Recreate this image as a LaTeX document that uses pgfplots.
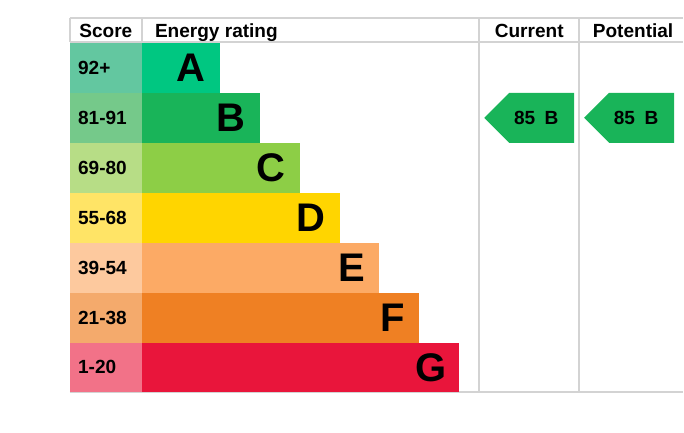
\documentclass[border=0pt]{standalone}
\usepackage{pgfplots}
\pgfplotsset{compat=1.18}
\usepackage{fontspec}
\setmainfont{Liberation Sans}
\definecolor{barA}{HTML}{00C781}\definecolor{scA}{HTML}{63C7A0}
\definecolor{barB}{HTML}{19B459}\definecolor{scB}{HTML}{75C98A}
\definecolor{barC}{HTML}{8DCE46}\definecolor{scC}{HTML}{B7DD86}
\definecolor{barD}{HTML}{FFD500}\definecolor{scD}{HTML}{FFE466}
\definecolor{barE}{HTML}{FCAA65}\definecolor{scE}{HTML}{FDC99E}
\definecolor{barF}{HTML}{EF8023}\definecolor{scF}{HTML}{F4AA6C}
\definecolor{barG}{HTML}{E9153B}\definecolor{scG}{HTML}{F27288}
\definecolor{gridc}{HTML}{D3D3D3}
\begin{document}
\begin{tikzpicture}[x=0.75pt,y=0.75pt]
\begin{axis}[
  scale only axis, width=513pt, height=324.75pt,
  xmin=0, xmax=684, ymin=0, ymax=433, y dir=reverse,
  axis lines=none, clip=false,
  every axis plot/.append style={line join=miter},
]
% grid lines
\addplot[gridc, line width=1.5pt] coordinates {(70,18)(684,18)};
\addplot[gridc, line width=1.5pt] coordinates {(70,42.5)(684,42.5)};
\addplot[gridc, line width=1.5pt] coordinates {(70,393)(684,393)};
\addplot[gridc, line width=1.5pt] coordinates {(70,18)(70,42.5)};
\addplot[gridc, line width=1.5pt] coordinates {(142,18)(142,42.5)};
\addplot[gridc, line width=1.5pt] coordinates {(480,18)(480,393)};
\addplot[gridc, line width=1.5pt] coordinates {(580,18)(580,393)};
% score cells
\addplot[fill=scA, draw=none] coordinates {(70,43)(142,43)(142,93)(70,93)} --cycle;
\addplot[fill=scB, draw=none] coordinates {(70,93)(142,93)(142,143)(70,143)} --cycle;
\addplot[fill=scC, draw=none] coordinates {(70,143)(142,143)(142,193)(70,193)} --cycle;
\addplot[fill=scD, draw=none] coordinates {(70,193)(142,193)(142,243)(70,243)} --cycle;
\addplot[fill=scE, draw=none] coordinates {(70,243)(142,243)(142,293)(70,293)} --cycle;
\addplot[fill=scF, draw=none] coordinates {(70,293)(142,293)(142,343)(70,343)} --cycle;
\addplot[fill=scG, draw=none] coordinates {(70,343)(142,343)(142,393)(70,393)} --cycle;
% bars
\addplot[fill=barA, draw=none] coordinates {(142,43)(220,43)(220,93)(142,93)} --cycle;
\addplot[fill=barB, draw=none] coordinates {(142,93)(260,93)(260,143)(142,143)} --cycle;
\addplot[fill=barC, draw=none] coordinates {(142,143)(300,143)(300,193)(142,193)} --cycle;
\addplot[fill=barD, draw=none] coordinates {(142,193)(340,193)(340,243)(142,243)} --cycle;
\addplot[fill=barE, draw=none] coordinates {(142,243)(380,243)(380,293)(142,293)} --cycle;
\addplot[fill=barF, draw=none] coordinates {(142,293)(420,293)(420,343)(142,343)} --cycle;
\addplot[fill=barG, draw=none] coordinates {(142,343)(460,343)(460,393)(142,393)} --cycle;
% arrows
\addplot[fill=barB, draw=none] coordinates {(485,118)(510,93)(575,93)(575,143)(510,143)} --cycle;
\addplot[fill=barB, draw=none] coordinates {(585,118)(610,93)(675,93)(675,143)(610,143)} --cycle;
% header text
\begin{scope}[every node/.style={font=\fontsize{14.3pt}{16pt}\selectfont\bfseries, inner sep=0pt}]
\node[anchor=base] at (axis cs:106,37.5) {Score};
\node[anchor=base west] at (axis cs:155,37.5) {Energy rating};
\node[anchor=base] at (axis cs:530,37.5) {Current};
\node[anchor=base] at (axis cs:634,37.5) {Potential};
\node[anchor=base west] at (axis cs:78,74.5) {92+};
\node[anchor=base west] at (axis cs:78,124.5) {81-91};
\node[anchor=base west] at (axis cs:78,174.5) {69-80};
\node[anchor=base west] at (axis cs:78,224.5) {55-68};
\node[anchor=base west] at (axis cs:78,274.5) {39-54};
\node[anchor=base west] at (axis cs:78,324.5) {21-38};
\node[anchor=base west] at (axis cs:78,374.5) {1-20};
\node[anchor=base] at (axis cs:537,124.5) {85\hspace{0.5em}B};
\node[anchor=base] at (axis cs:637,124.5) {85\hspace{0.5em}B};
\end{scope}
\begin{scope}[every node/.style={font=\fontsize{30pt}{32pt}\selectfont\bfseries, inner sep=0pt, anchor=east}]
\node at (axis cs:206,68) {A};
\node at (axis cs:246,118) {B};
\node at (axis cs:286,168) {C};
\node at (axis cs:326,218) {D};
\node at (axis cs:366,268) {E};
\node at (axis cs:406,318) {F};
\node at (axis cs:447,368) {G};
\end{scope}
\end{axis}
\path[use as bounding box] (current axis.south west) rectangle (current axis.north east);
\end{tikzpicture}
\end{document}
